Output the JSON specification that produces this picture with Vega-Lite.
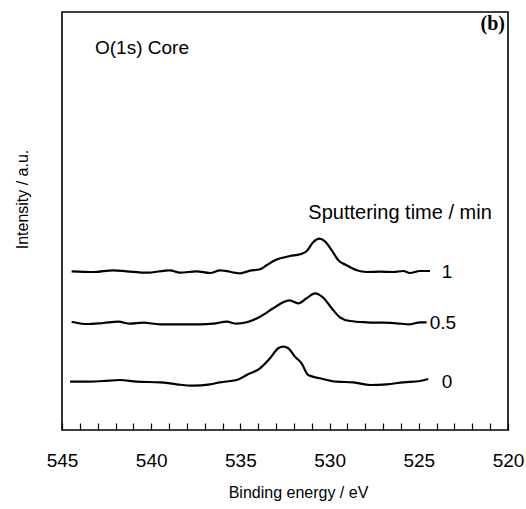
{
  "$schema": "https://vega.github.io/schema/vega-lite/v6.json",
  "width": 446,
  "height": 418,
  "autosize": {"type": "none"},
  "padding": {"left": 62, "top": 12, "right": 18, "bottom": 79},
  "background": "white",
  "config": {
    "view": {"stroke": "black", "strokeWidth": 1.6},
    "font": "Liberation Sans"
  },
  "datasets": {
    "curves": [
      {"E": 544.46, "I": 158.7, "t": "1"}, {"E": 543.25, "I": 158.0, "t": "1"}, {"E": 542.12, "I": 159.7, "t": "1"},
      {"E": 541.37, "I": 158.7, "t": "1"}, {"E": 540.25, "I": 157.3, "t": "1"}, {"E": 538.95, "I": 159.7, "t": "1"},
      {"E": 538.39, "I": 157.3, "t": "1"}, {"E": 537.45, "I": 158.7, "t": "1"}, {"E": 536.70, "I": 157.0, "t": "1"},
      {"E": 536.14, "I": 159.7, "t": "1"}, {"E": 535.02, "I": 156.7, "t": "1"}, {"E": 534.46, "I": 159.3, "t": "1"},
      {"E": 533.90, "I": 160.7, "t": "1"}, {"E": 533.53, "I": 164.7, "t": "1"}, {"E": 533.06, "I": 169.7, "t": "1"},
      {"E": 532.22, "I": 174.0, "t": "1"}, {"E": 531.66, "I": 175.7, "t": "1"}, {"E": 531.29, "I": 178.7, "t": "1"},
      {"E": 530.91, "I": 188.0, "t": "1"}, {"E": 530.58, "I": 191.3, "t": "1"}, {"E": 530.26, "I": 188.7, "t": "1"},
      {"E": 529.88, "I": 179.7, "t": "1"}, {"E": 529.51, "I": 169.7, "t": "1"}, {"E": 529.04, "I": 164.7, "t": "1"},
      {"E": 528.48, "I": 159.7, "t": "1"}, {"E": 527.92, "I": 158.0, "t": "1"}, {"E": 527.18, "I": 158.3, "t": "1"},
      {"E": 526.43, "I": 158.0, "t": "1"}, {"E": 525.87, "I": 159.0, "t": "1"}, {"E": 525.50, "I": 157.0, "t": "1"},
      {"E": 524.93, "I": 159.0, "t": "1"}, {"E": 524.37, "I": 159.0, "t": "1"},

      {"E": 544.46, "I": 108.3, "t": "0.5"}, {"E": 543.62, "I": 106.0, "t": "0.5"}, {"E": 542.69, "I": 107.0, "t": "0.5"},
      {"E": 541.84, "I": 108.3, "t": "0.5"}, {"E": 541.19, "I": 106.3, "t": "0.5"}, {"E": 540.44, "I": 107.3, "t": "0.5"},
      {"E": 539.51, "I": 105.7, "t": "0.5"}, {"E": 538.39, "I": 105.7, "t": "0.5"}, {"E": 537.27, "I": 105.7, "t": "0.5"},
      {"E": 536.52, "I": 106.3, "t": "0.5"}, {"E": 535.77, "I": 108.3, "t": "0.5"}, {"E": 535.21, "I": 106.3, "t": "0.5"},
      {"E": 534.65, "I": 107.7, "t": "0.5"}, {"E": 533.90, "I": 113.3, "t": "0.5"}, {"E": 533.16, "I": 121.7, "t": "0.5"},
      {"E": 532.60, "I": 127.7, "t": "0.5"}, {"E": 532.26, "I": 129.7, "t": "0.5"}, {"E": 531.76, "I": 126.7, "t": "0.5"},
      {"E": 531.29, "I": 131.7, "t": "0.5"}, {"E": 530.82, "I": 136.7, "t": "0.5"}, {"E": 530.35, "I": 132.3, "t": "0.5"},
      {"E": 529.88, "I": 121.7, "t": "0.5"}, {"E": 529.42, "I": 112.7, "t": "0.5"}, {"E": 528.86, "I": 109.0, "t": "0.5"},
      {"E": 527.92, "I": 107.7, "t": "0.5"}, {"E": 526.99, "I": 107.3, "t": "0.5"}, {"E": 526.24, "I": 106.7, "t": "0.5"},
      {"E": 525.50, "I": 105.7, "t": "0.5"}, {"E": 524.93, "I": 107.7, "t": "0.5"}, {"E": 524.56, "I": 107.7, "t": "0.5"},

      {"E": 544.55, "I": 48.3, "t": "0"}, {"E": 543.62, "I": 48.3, "t": "0"}, {"E": 542.69, "I": 49.0, "t": "0"},
      {"E": 541.75, "I": 50.0, "t": "0"}, {"E": 540.81, "I": 48.3, "t": "0"}, {"E": 539.51, "I": 47.7, "t": "0"},
      {"E": 538.57, "I": 45.7, "t": "0"}, {"E": 537.64, "I": 44.3, "t": "0"}, {"E": 536.70, "I": 45.7, "t": "0"},
      {"E": 536.14, "I": 47.7, "t": "0"}, {"E": 535.21, "I": 50.0, "t": "0"}, {"E": 534.65, "I": 55.0, "t": "0"},
      {"E": 533.90, "I": 61.7, "t": "0"}, {"E": 533.34, "I": 71.7, "t": "0"}, {"E": 532.88, "I": 81.7, "t": "0"},
      {"E": 532.60, "I": 83.3, "t": "0"}, {"E": 532.32, "I": 81.7, "t": "0"}, {"E": 531.94, "I": 73.3, "t": "0"},
      {"E": 531.57, "I": 66.7, "t": "0"}, {"E": 531.20, "I": 55.0, "t": "0"}, {"E": 530.54, "I": 51.7, "t": "0"},
      {"E": 529.60, "I": 48.3, "t": "0"}, {"E": 528.67, "I": 47.7, "t": "0"}, {"E": 527.74, "I": 45.0, "t": "0"},
      {"E": 526.80, "I": 45.7, "t": "0"}, {"E": 525.87, "I": 47.7, "t": "0"}, {"E": 524.93, "I": 49.0, "t": "0"},
      {"E": 524.47, "I": 51.0, "t": "0"}
    ],
    "serieslabels": [
      {"E": 523.42, "I": 158, "label": "1"},
      {"E": 523.65, "I": 107, "label": "0.5"},
      {"E": 523.42, "I": 48, "label": "0"}
    ],
    "core": [{"E": 543.15, "I": 382.5, "label": "O(1s) Core"}],
    "panel": [{"E": 520.17, "I": 406, "label": "(b)"}],
    "legendtitle": [{"E": 526.05, "I": 217, "label": "Sputtering time / min"}]
  },
  "encoding": {
    "x": {
      "field": "E",
      "type": "quantitative",
      "scale": {"domain": [520, 545], "reverse": true, "nice": false, "zero": false},
      "axis": {
        "title": "Binding energy / eV",
        "values": [520, 521, 522, 523, 524, 525, 526, 527, 528, 529, 530, 531, 532, 533, 534, 535, 536, 537, 538, 539, 540, 541, 542, 543, 544, 545],
        "labelExpr": "datum.value % 5 === 0 ? datum.label : ''",
        "labelOverlap": false,
        "labelFlush": false,
        "grid": false,
        "domain": false,
        "offset": -7,
        "tickSize": 7,
        "tickColor": "black",
        "tickWidth": 1.2,
        "encode": {
          "ticks": {
            "update": {
              "y": {"signal": "datum.value % 5 === 0 ? 0 : 3"},
              "y2": {"value": 7}
            }
          }
        },
        "labelFontSize": 19,
        "labelColor": "black",
        "labelPadding": 21,
        "titleFontSize": 16,
        "titleFontWeight": "normal",
        "titleColor": "black",
        "titleX": 236,
        "titleY": 74,
        "titleBaseline": "alphabetic",
        "titleAlign": "center"
      }
    },
    "y": {
      "field": "I",
      "type": "quantitative",
      "scale": {"domain": [0, 418], "nice": false, "zero": false},
      "axis": {
        "title": "Intensity / a.u.",
        "labels": false,
        "ticks": false,
        "domain": false,
        "grid": false,
        "titleFontSize": 16,
        "titleFontWeight": "normal",
        "titleColor": "black",
        "titleX": -32,
        "titleY": 187,
        "titleAngle": -90,
        "titleBaseline": "bottom",
        "titleAlign": "center"
      }
    }
  },
  "layer": [
    {
      "data": {"name": "curves"},
      "mark": {"type": "line", "color": "black", "strokeWidth": 2.2, "interpolate": "monotone"},
      "encoding": {"detail": {"field": "t", "type": "nominal"}}
    },
    {
      "data": {"name": "serieslabels"},
      "mark": {"type": "text", "fontSize": 19, "align": "center", "baseline": "middle", "color": "black"},
      "encoding": {"text": {"field": "label"}}
    },
    {
      "data": {"name": "core"},
      "mark": {"type": "text", "fontSize": 19, "align": "left", "baseline": "middle", "color": "black"},
      "encoding": {"text": {"field": "label"}}
    },
    {
      "data": {"name": "panel"},
      "mark": {"type": "text", "fontSize": 20, "font": "Liberation Serif", "fontWeight": "bold", "align": "right", "baseline": "middle", "color": "black"},
      "encoding": {"text": {"field": "label"}}
    },
    {
      "data": {"name": "legendtitle"},
      "mark": {"type": "text", "fontSize": 20, "align": "center", "baseline": "middle", "color": "black"},
      "encoding": {"text": {"field": "label"}}
    }
  ]
}
